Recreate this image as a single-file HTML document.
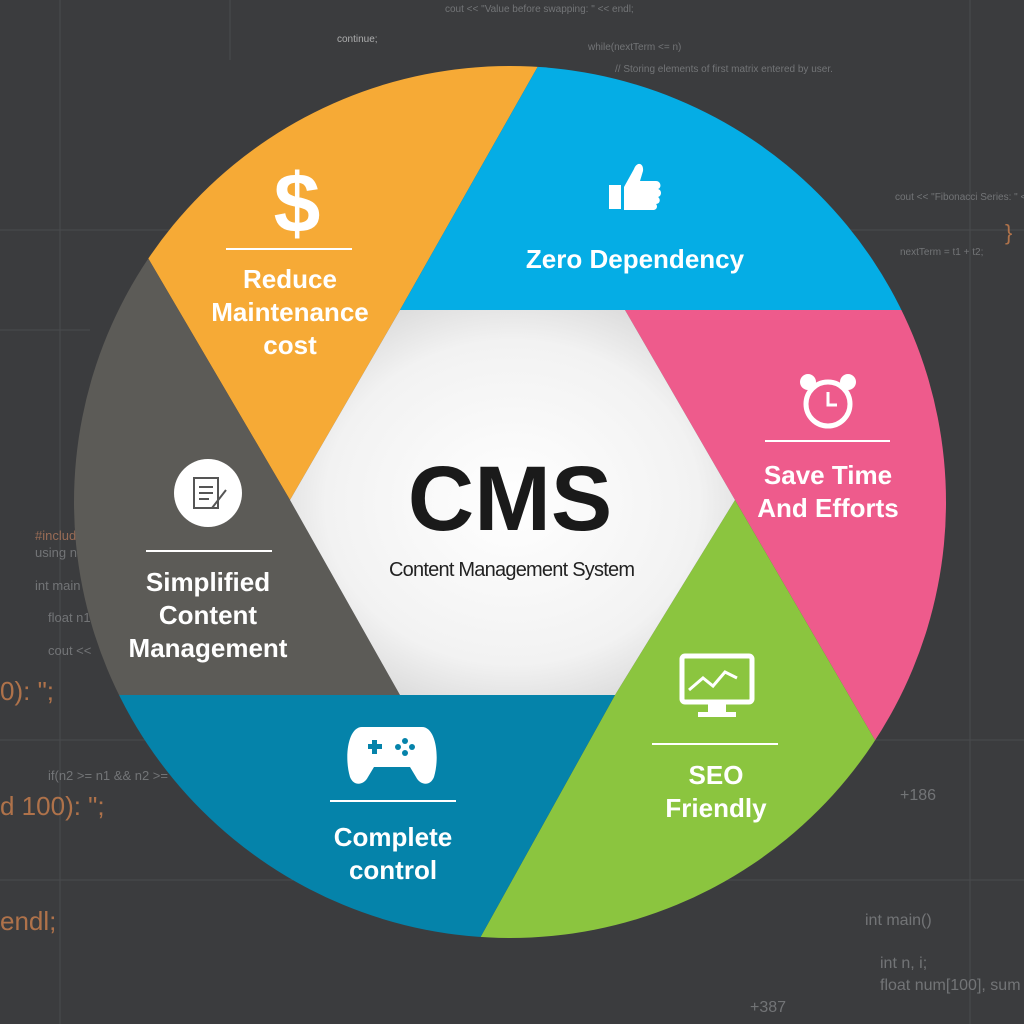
<!DOCTYPE html>
<html><head><meta charset="utf-8"><style>
html,body{margin:0;padding:0;background:#3b3c3e;width:1024px;height:1024px;overflow:hidden;}
svg{display:block}
</style></head><body>
<svg width="1024" height="1024" viewBox="0 0 1024 1024" xmlns="http://www.w3.org/2000/svg" font-family="Liberation Sans, sans-serif">
<defs>
<clipPath id="c"><circle cx="510" cy="502" r="436"/></clipPath>
<radialGradient id="hg" cx="0.5" cy="0.5" r="0.6">
<stop offset="0" stop-color="#ffffff"/><stop offset="0.7" stop-color="#f2f2f2"/><stop offset="1" stop-color="#d6d6d6"/>
</radialGradient>
</defs>
<rect width="1024" height="1024" fill="#3b3c3e"/>
<g stroke="#4a4b4e" stroke-width="1" fill="none">
<path d="M0 230 H1024 M0 740 H1024 M0 880 H1024 M60 0 V1024 M970 0 V1024 M0 330 H90 M230 0 V60"/>
</g>
<g fill="#8a8c8f" font-size="10" opacity="0.7">
<text x="445" y="12">cout &lt;&lt; "Value before swapping: " &lt;&lt; endl;</text>
<text x="337" y="42" fill="#ddd">continue;</text>
<text x="588" y="50">while(nextTerm &lt;= n)</text>
<text x="615" y="72">// Storing elements of first matrix entered by user.</text>
<text x="895" y="200">cout &lt;&lt; "Fibonacci Series: " &lt;&lt; t1</text>
<text x="900" y="255">nextTerm = t1 + t2;</text>
<text x="35" y="540" fill="#c08060" font-size="13">#includ</text>
<text x="35" y="557" font-size="13">using n</text>
<text x="35" y="590" font-size="13">int main</text>
<text x="48" y="622" font-size="13">float n1</text>
<text x="48" y="655" font-size="13">cout &lt;&lt;</text>
<text x="0" y="700" fill="#e08a50" font-size="26">0): ";</text>
<text x="0" y="815" fill="#e08a50" font-size="26">d 100): ";</text>
<text x="0" y="930" fill="#e08a50" font-size="26">endl;</text>
<text x="48" y="780" font-size="13">if(n2 &gt;= n1 &amp;&amp; n2 &gt;=</text>
<text x="865" y="925" font-size="16">int main()</text>
<text x="880" y="968" font-size="16">int n, i;</text>
<text x="880" y="990" font-size="16">float num[100], sum</text>
<text x="900" y="800" font-size="16">+186</text>
<text x="750" y="1012" font-size="16">+387</text>
<text x="1005" y="240" fill="#e08a50" font-size="22">}</text>
</g>
<g clip-path="url(#c)">
<polygon points="290,500 -65,-105 674,-174 400,310" fill="#f6aa36"/>
<polygon points="400,310 674,-174 1100,-100 1100,310" fill="#05ade5"/>
<polygon points="625,310 1100,310 1100,980 1015,980 735,500" fill="#ee5b8c"/>
<polygon points="735,500 1015,980 1050,1100 410,1064 615,695" fill="#8bc53f"/>
<polygon points="400,695 615,695 410,1064 -100,1064 -100,695" fill="#0583aa"/>
<polygon points="290,500 -65,-105 -100,-105 -100,695 400,695" fill="#5c5b57"/>
<polygon points="290,500 400,310 625,310 735,500 615,695 400,695" fill="url(#hg)"/>
</g>
<text x="510" y="530" text-anchor="middle" font-size="92" font-weight="bold" fill="#1a1a1a">CMS</text>
<text x="512" y="576" text-anchor="middle" font-size="20" fill="#222" textLength="246">Content Management System</text>
<g fill="#fff" font-weight="bold" text-anchor="middle" font-size="26">
<text x="297" y="232" font-size="84">$</text>
<line x1="226" y1="249" x2="352" y2="249" stroke="#fff" stroke-width="2"/>
<text x="290" y="288">Reduce</text>
<text x="290" y="321">Maintenance</text>
<text x="290" y="354">cost</text>
<text x="635" y="268">Zero Dependency</text>
<text x="828" y="484">Save Time</text>
<text x="828" y="517">And Efforts</text>
<line x1="765" y1="441" x2="890" y2="441" stroke="#fff" stroke-width="2"/>
<text x="716" y="784">SEO</text>
<text x="716" y="817">Friendly</text>
<line x1="652" y1="744" x2="778" y2="744" stroke="#fff" stroke-width="2"/>
<text x="393" y="846">Complete</text>
<text x="393" y="879">control</text>
<line x1="330" y1="801" x2="456" y2="801" stroke="#fff" stroke-width="2"/>
<text x="208" y="591">Simplified</text>
<text x="208" y="624">Content</text>
<text x="208" y="657">Management</text>
<line x1="146" y1="551" x2="272" y2="551" stroke="#fff" stroke-width="2"/>
</g>
<g fill="#fff">
<path d="M609 185 h12 v24 h-12z M624 187 l10 -18 c3 -8 10 -6 9 2 l-3 10 h16 c5 0 6 7 2 8 c4 1 4 7 0 8 c3 2 2 7 -2 7 c2 2 1 6 -3 6 h-29z"/>
<circle cx="828" cy="404" r="22" fill="none" stroke="#fff" stroke-width="5"/>
<path d="M828 392 v13 h9" fill="none" stroke="#fff" stroke-width="3"/>
<circle cx="808" cy="382" r="8"/><circle cx="848" cy="382" r="8"/>
<rect x="682" y="656" width="70" height="46" rx="3" fill="none" stroke="#fff" stroke-width="5"/>
<path d="M689 690 l14 -12 l10 8 l12 -14 l12 6" fill="none" stroke="#fff" stroke-width="3"/>
<rect x="708" y="702" width="18" height="10"/><rect x="698" y="712" width="38" height="5"/>
<path d="M362 727 h60 c14 0 18 30 12 50 c-4 10 -14 8 -18 0 l-6 -10 h-36 l-6 10 c-4 8 -14 10 -18 0 c-6 -20 -2 -50 12 -50z"/>
<circle cx="208" cy="493" r="34"/>
</g>
<g fill="#0583aa"><rect x="368" y="744" width="14" height="5"/><rect x="372" y="740" width="5" height="14"/>
<circle cx="405" cy="741" r="3"/><circle cx="412" cy="747" r="3"/><circle cx="405" cy="753" r="3"/><circle cx="398" cy="747" r="3"/></g>
<g fill="none" stroke="#555" stroke-width="2"><rect x="194" y="478" width="24" height="30"/><path d="M199 487h14M199 493h14M199 499h10 M212 508 l14 -18"/></g>
</svg>
</body></html>
